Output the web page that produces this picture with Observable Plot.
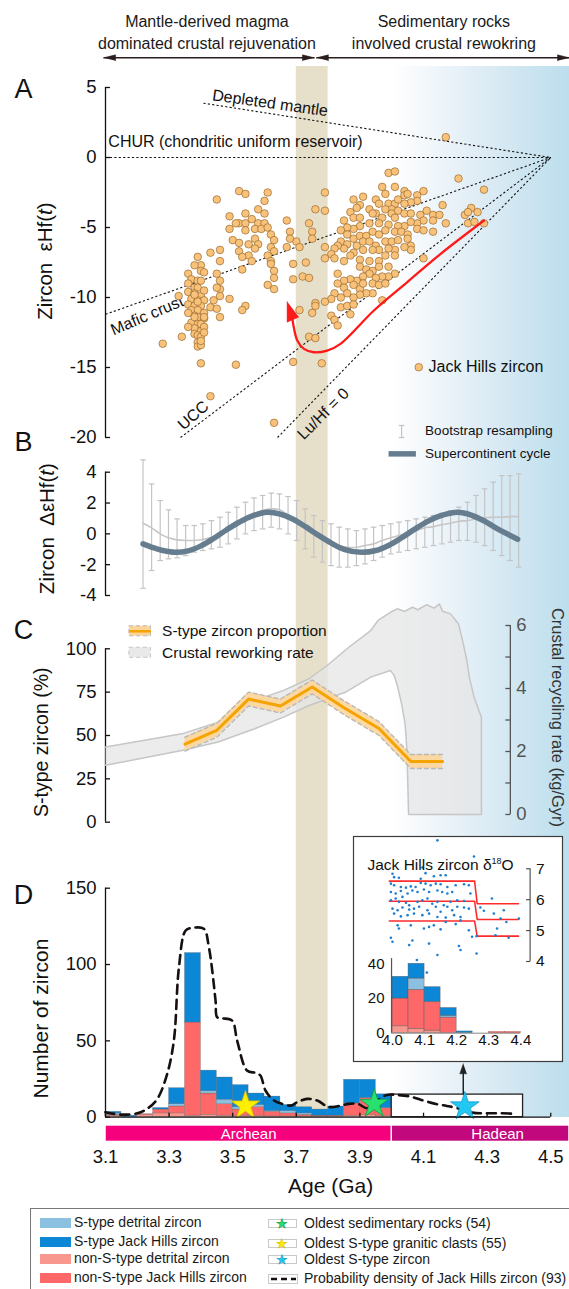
<!DOCTYPE html>
<html><head><meta charset="utf-8">
<script src="https://cdn.jsdelivr.net/npm/d3@7"></script>
<script src="https://cdn.jsdelivr.net/npm/@observablehq/plot@0.6"></script>
<style>
body{margin:0;background:#fff;}
#page{position:relative;width:569px;height:1289px;overflow:hidden;font-family:'Liberation Sans',Arial,Helvetica,sans-serif;color:#1a1a1a;}
#page svg{overflow:visible;}
.lg{position:absolute;font-size:14px;white-space:nowrap;line-height:1;}
</style></head><body>
<svg width="0" height="0" style="position:absolute"><defs>
<linearGradient id="blueGrad" x1="0" x2="1" y1="0" y2="0">
<stop offset="0" stop-color="#ffffff"/><stop offset="0.45" stop-color="#e2eef6"/><stop offset="1" stop-color="#bcdeed"/>
</linearGradient></defs></svg>
<div id="page"></div>
<script>
// ================= DATA =================
// Panel A: Jack Hills zircon [age Ga, εHf(t)]
const jackHillsHf = [
[3.39,-7.1],[3.40,-7.7],[3.38,-7.7],[3.36,-8.3],[3.40,-8.1],[3.41,-8.2],[3.37,-8.7],[3.39,-8.8],[3.40,-8.8],[3.38,-9.3],[3.39,-9.3],[3.36,-9.6],[3.38,-9.7],[3.40,-9.9],[3.37,-10.1],[3.39,-10.2],[3.41,-10.2],[3.36,-10.5],[3.38,-10.6],[3.40,-10.6],[3.37,-10.9],[3.39,-10.9],[3.41,-11.1],[3.38,-11.3],[3.39,-11.4],[3.41,-11.5],[3.37,-11.8],[3.39,-11.9],[3.40,-11.9],[3.38,-12.2],[3.40,-12.4],[3.38,-12.6],[3.39,-12.7],[3.40,-12.8],[3.39,-13.2],[3.39,-13.5],[3.40,-13.4],[3.41,-12.1],[3.34,-12.8],[3.28,-13.3],[3.33,-9.9],[3.36,-9.0],[3.41,-9.5],[3.38,-11.4],[3.41,-11.4],[3.36,-12.1],[3.40,-13.1],[3.41,-12.5],[3.36,-11.1],[3.39,-10.3],[3.38,-9.8],
[3.43,-6.8],[3.46,-6.6],[3.46,-7.4],[3.45,-8.3],[3.46,-8.8],[3.46,-9.4],[3.45,-9.3],[3.46,-9.9],[3.44,-10.2],[3.43,-10.7],[3.45,-10.8],[3.46,-11.4],[3.49,-10.1],[3.40,-14.7],[3.51,-14.8],[3.45,-3.0],
[3.52,-2.4],[3.54,-2.6],[3.61,-2.5],[3.60,-3.1],[3.58,-3.7],[3.60,-4.0],[3.49,-4.2],[3.54,-4.0],[3.52,-4.7],[3.54,-4.7],[3.56,-4.4],[3.58,-4.7],[3.60,-4.7],[3.49,-5.1],[3.51,-4.7],[3.54,-5.2],[3.57,-5.1],[3.59,-5.1],[3.61,-5.0],[3.62,-5.5],[3.50,-5.9],[3.52,-6.1],[3.55,-6.2],[3.57,-5.8],[3.58,-6.2],[3.57,-6.5],[3.63,-5.9],[3.62,-6.4],[3.63,-6.7],[3.52,-6.7],[3.55,-7.0],[3.53,-7.1],[3.61,-7.0],[3.56,-7.4],[3.62,-7.4],[3.62,-7.6],[3.53,-8.0],[3.63,-8.1],[3.63,-8.6],[3.61,-9.1],[3.63,-9.4],[3.54,-10.6],[3.53,-10.9],[3.67,-4.5],[3.68,-5.3],[3.70,-6.0],[3.67,-6.4],[3.71,-6.4],[3.69,-7.6],[3.69,-8.7],[3.72,-8.5],[3.74,-8.6],[3.73,-7.5],[3.68,-5.8],[3.74,-4.7],[3.75,-5.3],[3.75,-5.8],[3.76,-3.7],[3.79,-3.8],[3.79,-2.5],[3.71,-10.9],[3.76,-10.4],[3.76,-10.6],[3.75,-11.1],[3.74,-12.8],[3.76,-12.9],[3.69,-14.6],[3.78,-14.7],
[3.99,-1.1],[4.01,-1.0],[4.21,-1.5],[4.29,-2.3],[3.97,-2.1],[4.01,-2.1],[4.04,-2.4],[3.98,-2.6],[3.91,-2.8],[3.88,-3.0],[3.95,-3.0],[3.96,-3.3],[3.99,-3.3],[4.01,-3.3],[4.02,-3.0],[4.04,-2.7],[4.05,-2.6],[4.08,-2.7],[4.10,-2.4],[4.08,-3.1],[4.06,-3.2],[4.04,-3.3],[4.00,-3.7],[3.98,-3.7],[3.95,-4.0],[3.93,-3.7],[3.90,-3.4],[3.89,-3.6],[3.87,-3.9],[3.85,-4.5],[3.88,-4.3],[3.90,-4.3],[3.94,-4.0],[3.97,-4.3],[4.00,-4.0],[4.02,-3.8],[4.01,-4.3],[4.04,-4.0],[4.06,-4.0],[4.09,-4.1],[4.11,-3.8],[4.13,-4.1],[4.15,-4.1],[4.16,-3.4],[4.17,-4.7],[4.13,-4.5],[4.10,-4.5],[4.08,-4.7],[4.06,-4.6],[4.04,-4.9],[4.02,-4.9],[3.99,-4.8],[3.96,-4.7],[3.93,-4.7],[3.90,-4.9],[3.88,-5.1],[3.86,-5.0],[3.84,-5.2],[3.86,-5.5],[3.88,-5.8],[3.90,-5.6],[3.92,-5.6],[3.94,-5.3],[3.96,-5.5],[3.98,-5.2],[4.01,-5.3],[4.03,-5.3],[4.05,-5.5],[4.08,-5.1],[4.10,-5.2],[4.13,-5.3],[3.84,-6.0],[3.86,-6.2],[3.89,-6.3],[3.91,-6.0],[3.93,-6.0],[3.95,-6.3],[3.98,-6.0],[4.00,-6.0],[4.02,-5.9],[4.05,-5.8],[4.06,-6.3],[4.06,-6.6],[4.04,-6.4],[4.01,-6.6],[3.99,-6.5],[3.96,-6.6],[3.94,-6.6],[3.91,-6.6],[3.88,-6.8],[3.87,-7.0],[3.85,-6.5],[3.83,-6.3],[3.82,-6.5],[3.79,-6.4],[3.81,-6.9],[3.79,-7.2],[3.82,-7.2],[3.85,-7.4],[3.90,-7.3],[3.93,-7.4],[3.96,-7.4],[3.98,-7.0],[4.01,-7.0],[4.10,-7.2],[3.90,-7.8],[3.92,-8.0],[3.94,-8.1],[3.96,-7.8],[3.99,-7.8],[4.01,-8.3],[3.99,-8.5],[3.97,-8.5],[3.95,-8.6],[3.93,-8.3],[3.91,-8.5],[3.89,-8.8],[3.87,-8.7],[3.85,-8.8],[3.83,-8.3],[3.83,-9.0],[3.85,-9.3],[3.88,-9.1],[3.90,-9.4],[3.91,-9.0],[3.94,-9.0],[3.96,-9.1],[3.98,-9.0],[3.94,-9.7],[3.92,-9.7],[3.90,-9.8],[3.88,-10.0],[3.86,-9.7],[3.84,-10.0],[3.82,-9.7],[3.81,-10.1],[3.79,-10.3],[3.84,-10.7],[3.86,-10.6],[3.88,-10.5],[3.87,-11.2],[3.81,-11.3],[3.82,-11.6],[3.83,-12.0],[3.97,-10.2],
[4.23,-4.1],[4.25,-3.6],[4.24,-3.9],[4.27,-3.9],[4.24,-4.7],[4.26,-4.6],[4.29,-4.7],
[4.17,1.45],[3.43,-17.05],[3.63,-18.95]
];
// Panel A reference evolution lines (start point; all converge at 4.5 Ga, εHf 0)
const refLineNames = ["Depleted mantle","CHUR","Mafic crust","UCC","Lu/Hf = 0"];
const refLineStartAge = [3.408, 3.1, 3.1, 3.336, 3.641];
const refLineStartHf = [3.88, 0, -11.2, -20, -20];
const convergeAge = 4.5, convergeHf = 0;
// red trend arrow path
const trendAge = [4.290,4.154,4.049,3.944,3.839,3.797,3.755,3.724,3.703,3.692,3.687];
const trendHf  = [-4.50,-6.88,-8.90,-10.93,-13.31,-13.79,-13.91,-13.67,-13.07,-12.12,-11.40];
const trendHead = [[3.671,-10.29],[3.671,-11.76],[3.708,-11.40]];
const aTicks = [5,0,-5,-10,-15,-20];

// Panel B: bootstrap resampling of ΔεHf(t)
const bsAge = [3.218,3.245,3.272,3.298,3.325,3.352,3.379,3.406,3.433,3.460,3.486,3.513,3.540,3.567,3.594,3.621,3.647,3.674,3.701,3.728,3.755,3.782,3.809,3.835,3.862,3.889,3.916,3.943,3.970,3.997,4.023,4.050,4.077,4.104,4.131,4.158,4.185,4.211,4.238,4.265,4.292,4.319,4.346,4.372,4.399];
const bsMean = [0.69,0.39,0,-0.26,-0.39,-0.43,-0.43,-0.37,-0.22,0,0.32,0.69,1.04,1.30,1.51,1.62,1.56,1.23,0.86,0.43,0,-0.33,-0.61,-0.76,-0.87,-0.87,-0.76,-0.65,-0.43,-0.26,-0.11,0.04,0.21,0.39,0.47,0.60,0.69,0.82,0.86,0.97,1.04,1.08,1.08,1.12,1.12];
const bsLow = [-3.53,-2.38,-1.73,-1.62,-1.56,-1.41,-1.19,-1.08,-0.97,-0.87,-0.65,-0.33,0,0.21,0.32,0.43,0.32,0,-0.43,-0.97,-1.51,-1.84,-2.06,-2.16,-2.16,-2.06,-1.95,-1.73,-1.51,-1.30,-1.19,-1.08,-0.97,-0.87,-0.76,-0.65,-0.54,-0.43,-0.43,-0.54,-0.76,-1.08,-1.41,-1.73,-2.16];
const bsHigh = [4.8,3.24,2.16,1.56,0.97,0.54,0.54,0.65,0.86,1.08,1.40,1.73,2.05,2.33,2.49,2.64,2.59,2.42,2.16,1.62,1.19,0.86,0.65,0.43,0.32,0.21,0.32,0.43,0.54,0.65,0.76,0.86,0.97,1.08,1.19,1.34,1.51,1.73,2.05,2.49,2.92,3.35,3.78,3.78,3.89];
const cycleAge = [3.218,3.25,3.28,3.318,3.36,3.40,3.44,3.48,3.52,3.56,3.608,3.65,3.69,3.73,3.77,3.81,3.85,3.905,3.95,3.99,4.03,4.07,4.11,4.15,4.208,4.25,4.29,4.33,4.396];
const cycleVal = [-0.65,-0.9,-1.08,-1.2,-1.1,-0.78,-0.3,0.25,0.75,1.15,1.4,1.28,0.95,0.45,-0.1,-0.6,-1.0,-1.2,-1.08,-0.75,-0.27,0.27,0.78,1.15,1.4,1.22,0.85,0.35,-0.35];
const bTicks = [4,2,0,-2,-4];

// Panel C
const sTypeAge = [3.35,3.45,3.55,3.65,3.75,3.85,3.96,4.06,4.16];
const sTypePct = [45,53,71,67,78,66,54,35,35];
const reworkUpper = [[3.1,2.14],[3.34,2.56],[3.454,2.93],[3.569,3.62],[3.66,3.94],[3.74,4.31],[3.797,4.73],[3.865,5.31],[3.934,5.84],[3.957,6.16],[3.996,6.42],[4.017,6.53],[4.04,6.45],[4.065,6.58],[4.082,6.5],[4.11,6.66],[4.133,6.55],[4.15,6.68],[4.16,6.45],[4.185,6.37],[4.21,6.05],[4.225,5.42],[4.236,4.89],[4.244,4.36],[4.259,3.72],[4.274,3.30],[4.282,3.09],[4.282,0]];
const reworkLower = [[4.053,0],[4.048,2.03],[4.042,2.88],[4.031,3.51],[4.019,4.04],[4.008,4.41],[3.996,4.57],[3.934,4.36],[3.854,3.88],[3.74,3.46],[3.66,3.09],[3.569,2.72],[3.454,2.30],[3.34,2.03],[3.1,1.56]];
const cLeftTicks = [100,75,50,25,0];
const cRightTicks = [0,1,2,3,4,5,6];
const cRightLabels = [0,2,4,6];

// Panel D histogram (0.05 Ga bins, 3.10–4.00)
const histBins = [3.10,3.15,3.20,3.25,3.30,3.35,3.40,3.45,3.50,3.55,3.60,3.65,3.70,3.75,3.80,3.85,3.90,3.95];
const histNonSDetrital = [1.0,0,1.5,2.5,2.5,1.0,1.5,1.0,1.0,1.0,0.5,0.5,0.5,0.5,0.5,1.0,1.5,1.0];
const histNonSJackHills = [0.5,0,0.5,2.5,4.5,61.0,14.0,7.5,4.0,5.5,3.0,2.0,1.0,0.5,0.5,8.0,11.0,5.0];
const histSDetrital = [1.0,0,0,0,1.5,0,1.5,3.0,1.5,1.5,0.5,1.5,1.0,0,0,0,0,0];
const histSJackHills = [1.0,1.0,0,1.0,10.5,45.5,13.5,14.5,14.5,7.5,9.5,4.0,4.0,4.0,6.0,15.5,12.0,9.0];
const binWidth = 0.05;
const densityAge = [3.10,3.147,3.20,3.231,3.263,3.294,3.315,3.331,3.352,3.373,3.409,3.425,3.446,3.451,3.467,3.498,3.514,3.545,3.572,3.587,3.603,3.63,3.656,3.682,3.703,3.734,3.766,3.792,3.808,3.839,3.865,3.894,3.922,3.957,3.985,4.014,4.059,4.093,4.139,4.173,4.207,4.253,4.299,4.344,4.39];
const densityVal = [3.3,1.7,2.6,5.5,12.0,28.4,50.2,98.3,122.3,124.0,123.4,111.4,76.4,65.5,64.8,63.3,50.2,30.6,29.0,27.3,17.5,10.9,8.7,7.6,9.8,12.0,10.9,7.6,6.6,7.6,8.7,8.7,5.9,11.3,14.6,14.6,13.5,11.3,8.7,7.4,5.9,3.0,2.6,2.6,2.2];
const starNames = ["Oldest S-type granitic clasts (55)","Oldest sedimentary rocks (54)","Oldest S-type zircon"];
const starAge = [3.54, 3.945, 4.23];
const starCount = [7.6, 8.7, 7.0];
const eonNames = ["Archean","Hadean"];
const eonStart = [3.1, 4.0];
const eonEnd = [4.0, 4.559];
const eonLabelAge = [3.55, 4.333];
const dTicks = [150,100,50,0];
const ageTicks = [3.1,3.3,3.5,3.7,3.9,4.1,4.3,4.5];
const zoomBox = [4.0, 4.413, 14.8]; // age from, age to, count height

// Inset: δ18O of Jack Hills zircon
const o18 = [[4.14,7.92],[4.254,7.40],[4.00,6.84],[4.005,6.73],[4.02,6.71],[4.093,7.04],[4.103,6.86],[4.129,6.76],[4.15,6.79],[4.166,6.79],[4.088,6.68],[3.995,6.52],[4.005,6.47],[4.026,6.41],[4.042,6.39],[4.057,6.43],[4.072,6.41],[4.088,6.54],[4.103,6.52],[4.119,6.47],[4.135,6.52],[4.15,6.50],[4.171,6.41],[4.197,6.47],[4.223,6.50],[4.238,6.47],[4.243,6.20],[3.995,6.25],[4.01,6.20],[4.026,6.28],[4.031,6.09],[4.047,6.20],[4.062,6.30],[4.078,6.25],[4.098,6.33],[4.114,6.25],[4.14,6.30],[4.155,6.25],[4.171,6.20],[4.186,6.25],[3.995,5.98],[4.01,6.04],[4.02,5.93],[4.042,5.90],[4.052,5.82],[4.078,5.93],[4.093,5.98],[4.109,6.04],[4.124,5.87],[4.14,5.93],[4.16,5.82],[4.181,5.93],[4.202,5.98],[4.223,5.96],[4.00,5.71],[4.016,5.66],[4.031,5.75],[4.052,5.68],[4.067,5.71],[4.083,5.77],[4.109,5.66],[4.135,5.77],[4.15,5.61],[4.171,5.77],[4.186,5.66],[4.202,5.77],[4.223,5.75],[4.238,5.71],[4.005,5.55],[4.026,5.46],[4.047,5.50],[4.067,5.55],[4.093,5.50],[4.114,5.55],[4.14,5.44],[4.166,5.42],[4.192,5.50],[4.212,5.44],[4.016,5.17],[4.02,5.07],[4.057,5.17],[4.098,5.07],[4.114,5.12],[4.129,5.17],[4.15,5.04],[4.166,5.28],[4.197,5.21],[4.212,5.33],[4.238,5.01],[4.248,4.80],[3.995,4.77],[4.00,4.64],[4.052,4.53],[4.062,4.68],[4.114,4.58],[4.14,4.21],[4.207,4.50],[4.212,4.37],[4.262,4.26],[4.076,4.05],[4.107,3.64],[4.274,5.75],[4.285,5.64],[4.31,6.04],[4.347,5.66],[4.316,5.55],[4.337,5.39],[4.355,5.28],[4.394,5.39],[4.326,5.07],[4.321,4.85],[4.362,4.77],[4.262,4.82]];
const o18Steps = [
  [[3.99,6.6],[4.256,6.6],[4.264,5.87],[4.393,5.87]],
  [[3.99,5.95],[4.256,5.95],[4.264,5.36],[4.393,5.36]],
  [[3.99,5.31],[4.256,5.31],[4.264,4.82],[4.393,4.82]]
];
const insetBins = [4.00,4.05,4.10,4.15,4.20,4.25,4.30,4.35];
const insetNonSDetrital = [4,2.5,1.5,0,0,0,0,0];
const insetNonSJackHills = [16,22.5,16.5,9,0,0,0.6,0.6];
const insetSDetrital = [0,6.5,0,1,0,0,0,0];
const insetSJackHills = [12.5,8.5,8.5,4.5,1,0,0,0];
const insetCountTicks = [40,20,0];
const insetAgeTicks = [4.0,4.1,4.2,4.3,4.4];
const insetO18Ticks = [7,6,5,4];

// ================= STYLE / LAYOUT =================
const FONT = "'Liberation Sans', Arial, Helvetica, sans-serif";
const XD = [3.1, 4.559];
const FRAMEW = 569 - 105;
const pxAge = 1 / 318; // one pixel in Ga on the shared age axis
const TAN = "#e6dfca";
const col = {nonSdet: "#f7978d", nonSJH: "#ff6868", Sdet: "#8cc0e1", SJH: "#0b87d6"};
const seriesOrder = ["nonSdet","nonSJH","Sdet","SJH"];
const page = document.getElementById("page");

function put(svg, top, left = 0) {
  const d = document.createElement("div");
  d.style.cssText = `position:absolute;left:${left}px;top:${top}px;`;
  d.appendChild(svg);
  page.appendChild(d);
  return svg;
}
function mk(o) {
  const x = Object.assign({domain: XD, axis: null}, o.x || {});
  return Plot.plot(Object.assign({
    width: 569, marginLeft: 105, marginRight: 0, marginTop: 0, marginBottom: 0,
    style: {background: "transparent", overflow: "visible", fontFamily: FONT, fontSize: "16px", color: "#111"}
  }, o, {x}));
}
const bg = () => [
  Plot.rect([0], {x1: 4.0, x2: XD[1], fill: "url(#blueGrad)"}),
  Plot.rect([0], {x1: 3.7, x2: 3.8, fill: TAN})
];
function leftAxis(ticks, lo, hi, opts = {}) {
  return [
    Plot.ruleX([3.1], {y1: lo, y2: hi, stroke: "#111", strokeWidth: 1.3}),
    Plot.ruleY(ticks, {y: d => d, insetRight: FRAMEW - 5, stroke: "#111", strokeWidth: 1.3}),
    Plot.axisY({ticks, tickSize: 0, tickPadding: 9, tickFormat: d => String(d), fontSize: 18.5, label: null, anchor: "left", ...opts})
  ];
}
// rotated axis title centred at page-x `cx`, data-y `y`
const yTitle = (t, cx, y, fs) => Plot.text([t], {x: 3.1, dx: cx - 105, y, rotate: -90, text: d => d, textAnchor: "middle", lineAnchor: "middle", fontSize: fs});
function richText(svg) {
  svg.querySelectorAll("text").forEach(t => {
    if (t.children.length) return;
    const s = t.textContent;
    const NS = "http://www.w3.org/2000/svg";
    if (s.includes("(t)")) {
      const [pre, post] = s.split("(t)");
      t.textContent = "";
      t.appendChild(document.createTextNode(pre + "("));
      const ts = document.createElementNS(NS, "tspan");
      ts.setAttribute("font-style", "italic"); ts.textContent = "t";
      t.appendChild(ts);
      t.appendChild(document.createTextNode(")" + post));
    } else if (s.includes("δ18O")) {
      const [pre] = s.split("δ18O");
      t.textContent = "";
      t.appendChild(document.createTextNode(pre + "δ"));
      const a = document.createElementNS(NS, "tspan");
      a.setAttribute("font-size", "9"); a.setAttribute("dy", "-6"); a.textContent = "18";
      const b = document.createElementNS(NS, "tspan");
      b.setAttribute("dy", "6"); b.textContent = "O";
      t.appendChild(a); t.appendChild(b);
    }
  });
}
const letter = (L, dy) => Plot.text([L], {frameAnchor: "top-left", dx: -82, dy, text: d => d, fontSize: 27, textAnchor: "middle", lineAnchor: "middle"});

// ================= HEADER =================
const headerArrows = [{a: 3.094, b: 3.757}, {a: 3.763, b: XD[1]}];
const AY = 57.3, HL = 12 * pxAge, HH = 3;
const heads = [];
headerArrows.forEach((ar, i) => {
  heads.push([ar.a, AY, "l" + i], [ar.a + HL, AY - HH, "l" + i], [ar.a + HL, AY + HH, "l" + i]);
  heads.push([ar.b, AY, "r" + i], [ar.b - HL, AY - HH, "r" + i], [ar.b - HL, AY + HH, "r" + i]);
});
const headerText = [
  {t: "Mantle-derived magma", x: 3.419, y: 21.7}, {t: "dominated crustal rejuvenation", x: 3.419, y: 43.3},
  {t: "Sedimentary rocks", x: 4.164, y: 21.7}, {t: "involved crustal rewokring", x: 4.164, y: 43.3}
];
put(mk({height: 66, y: {type: "identity", axis: null}, marks: [
  Plot.text(headerText, {x: "x", y: "y", text: "t", fontSize: 16, fill: "#1a1a1a"}),
  Plot.link(headerArrows, {x1: "a", x2: "b", y1: AY, y2: AY, stroke: "#2b1d1d", strokeWidth: 1.6}),
  Plot.line(heads, {x: d => d[0], y: d => d[1], z: d => d[2], fill: "#2b1d1d", stroke: "#2b1d1d", strokeWidth: 0.5})
]}), 0);

// ================= PANEL A =================
const refIdx = d3.range(refLineNames.length);
const svgA = put(mk({height: 389, y: {domain: [-20, 5], range: [371, 21], axis: null}, marks: [
  ...bg(),
  Plot.link(refIdx, {x1: i => refLineStartAge[i], y1: i => refLineStartHf[i], x2: convergeAge, y2: convergeHf, stroke: "#111", strokeWidth: 1.1, strokeDasharray: "2.2,2.2"}),
  Plot.text(["Depleted mantle"], {x: 3.436, y: 4.46, rotate: 8, text: d => d, textAnchor: "start", fontSize: 16}),
  Plot.text(["CHUR (chondritic uniform reservoir)"], {x: 3.109, y: 1.09, text: d => d, textAnchor: "start", fontSize: 16}),
  Plot.text(["Mafic crust"], {x: 3.231, y: -11.29, rotate: -23, text: d => d, fontSize: 16}),
  Plot.text(["UCC"], {x: 3.376, y: -18.43, rotate: -41, text: d => d, fontSize: 16}),
  Plot.text(["Lu/Hf = 0"], {x: 3.785, y: -18.31, rotate: -45, text: d => d, fontSize: 16}),
  Plot.dot(jackHillsHf, {x: d => d[0], y: d => d[1], r: 3.8, fill: "#f9c27a", stroke: "#9a6a2e", strokeWidth: 0.7}),
  Plot.line(d3.range(trendAge.length), {x: i => trendAge[i], y: i => trendHf[i], stroke: "#ff1a1a", strokeWidth: 2.3, curve: "catmull-rom"}),
  Plot.line(trendHead, {x: d => d[0], y: d => d[1], fill: "#ff1a1a", stroke: "#ff1a1a", strokeWidth: 0.5}),
  Plot.dot([0], {x: 4.085, y: -14.98, r: 3.8, fill: "#f9c27a", stroke: "#9a6a2e", strokeWidth: 0.7}),
  Plot.text(["Jack Hills zircon"], {x: 4.116, y: -14.98, text: d => d, textAnchor: "start", fontSize: 16}),
  ...leftAxis(aTicks, -20, 5),
  yTitle("Zircon  εHf(t)", 45, -7.4, 20.5),
  letter("A", 23)
]}), 66);
richText(svgA);

// ================= PANEL B =================
const bsIdx = d3.range(bsAge.length);
const cap = 2.8 * pxAge;
const svgB = put(mk({height: 185, marginTop: 40, y: {domain: [-4, 4], range: [180, 56.7], axis: null}, marks: [
  ...bg(),
  Plot.ruleX(bsIdx, {x: i => bsAge[i], y1: i => bsLow[i], y2: i => bsHigh[i], stroke: "#c4c4c4", strokeWidth: 1.2}),
  Plot.link(bsIdx, {x1: i => bsAge[i] - cap, x2: i => bsAge[i] + cap, y1: i => bsLow[i], y2: i => bsLow[i], stroke: "#c4c4c4", strokeWidth: 1.2}),
  Plot.link(bsIdx, {x1: i => bsAge[i] - cap, x2: i => bsAge[i] + cap, y1: i => bsHigh[i], y2: i => bsHigh[i], stroke: "#c4c4c4", strokeWidth: 1.2}),
  Plot.line(bsIdx, {x: i => bsAge[i], y: i => bsMean[i], stroke: "#c6c6c6", strokeWidth: 1.6, curve: "catmull-rom"}),
  Plot.line(d3.range(cycleAge.length), {x: i => cycleAge[i], y: i => cycleVal[i], stroke: "#657d8f", strokeWidth: 5.5, curve: "catmull-rom"}),
  // legend
  Plot.ruleX([4.031], {y1: 6.25, y2: 7.03, stroke: "#c4c4c4", strokeWidth: 1.2}),
  Plot.link([6.25, 7.03], {x1: 4.031 - cap, x2: 4.031 + cap, y1: d => d, y2: d => d, stroke: "#c4c4c4", strokeWidth: 1.2}),
  Plot.link([0], {x1: 3.99, x2: 4.076, y1: 5.19, y2: 5.19, stroke: "#657d8f", strokeWidth: 5.5}),
  Plot.text(["Bootstrap resampling", "Supercontinent cycle"], {x: 4.105, y: (d, i) => [6.71, 5.19][i], text: d => d, textAnchor: "start", fontSize: 13.5}),
  ...leftAxis(bTicks, -4, 4),
  yTitle("Zircon  ΔεHf(t)", 47, 0.34, 20.5),
  letter("B", -13.3)
]}), 415);
richText(svgB);

// ================= PANEL C =================
const sIdx = d3.range(sTypeAge.length);
const cLeftY = {domain: [0, 100], range: [221.7, 48.3], axis: null};
put(mk({height: 236, y: cLeftY, marks: [
  ...bg(),
  ...leftAxis(cLeftTicks, 0, 100),
  yTitle("S-type zircon (%)", 41.7, 46.1, 19.5),
  letter("C", 30)
]}), 600);
const RX = 4.373;
put(mk({height: 236, y: {domain: [0, 6], range: [214, 25], axis: null}, marks: [
  Plot.line([...reworkUpper, ...reworkLower], {x: d => d[0], y: d => d[1], fill: "#e6e6e6", fillOpacity: 0.75, stroke: "#c6c6c6", strokeWidth: 1.5}),
  Plot.ruleX([RX], {y1: 0, y2: 6, stroke: "#555", strokeWidth: 1.3}),
  Plot.link(cRightTicks, {x1: RX - 5 * pxAge, x2: RX, y1: d => d, y2: d => d, stroke: "#555", strokeWidth: 1.3}),
  Plot.text(cRightLabels, {x: RX, dx: 6, y: d => d, text: d => String(d), textAnchor: "start", fontSize: 18.5, fill: "#555"}),
  Plot.text(["Crustal recycling rate (kg/Gyr)"], {x: 4.521, y: 3.08, rotate: 90, text: d => d, fontSize: 16.5, fill: "#333"})
]}), 600);
put(mk({height: 236, y: cLeftY, marks: [
  Plot.areaY(sIdx, {x: i => sTypeAge[i], y1: i => sTypePct[i] - 4, y2: i => sTypePct[i] + 4, fill: "#fdd59a", fillOpacity: 0.9}),
  Plot.line(sIdx, {x: i => sTypeAge[i], y: i => sTypePct[i] + 4, stroke: "#b9b9b9", strokeWidth: 1.4, strokeDasharray: "4,3"}),
  Plot.line(sIdx, {x: i => sTypeAge[i], y: i => sTypePct[i] - 4, stroke: "#b9b9b9", strokeWidth: 1.4, strokeDasharray: "4,3"}),
  Plot.line(sIdx, {x: i => sTypeAge[i], y: i => sTypePct[i], stroke: "#f5a300", strokeWidth: 3}),
  // legend
  Plot.rect([0], {x1: 3.175, x2: 3.243, y1: 107.2, y2: 113.0, fill: "#fdd59a", stroke: "#b9b9b9", strokeDasharray: "4,3"}),
  Plot.link([0], {x1: 3.175, x2: 3.243, y1: 110.1, y2: 110.1, stroke: "#f5a300", strokeWidth: 2.5}),
  Plot.rect([0], {x1: 3.175, x2: 3.243, y1: 94.8, y2: 100.6, fill: "#e9e9e9", stroke: "#c6c6c6", strokeDasharray: "4,3"}),
  Plot.text(["S-type zircon proportion", "Crustal reworking rate"], {x: 3.278, y: (d, i) => [110.1, 97.7][i], text: d => d, textAnchor: "start", fontSize: 15.5})
]}), 600);

// ================= PANEL D =================
const dVals = {nonSdet: histNonSDetrital, nonSJH: histNonSJackHills, Sdet: histSDetrital, SJH: histSJackHills};
const dRects = [];
histBins.forEach((b, i) => {
  let acc = 0;
  seriesOrder.forEach(s => { const v = dVals[s][i]; if (v > 0) dRects.push({x1: b, x2: b + binWidth, y1: acc, y2: acc + v, s}); acc += v; });
});
const dPx = 229 / 150;               // pixels per count
const below = px => -px / dPx;       // offset below the zero line, in count units
const starIdx = d3.range(starAge.length);
const starFill = ["#fff000", "#27e06e", "#22c8f2"];
const starStroke = ["#d9b800", "#119a45", "#1a9ccb"];
const eonFill = ["#f7007d", "#c2087d"];
const arrowX = 4.225, tipC = 35.0, headC = tipC - 10 / dPx, hw = 3.5 * pxAge;
const eonIdx = d3.range(eonNames.length);
put(mk({height: 371, marginBottom: 90, y: {domain: [0, 150], range: [280.7, 51.7], axis: null}, marks: [
  ...bg(),
  Plot.rect(dRects, {x1: "x1", x2: "x2", y1: "y1", y2: "y2", fill: d => col[d.s], stroke: "#5a5a5a", strokeWidth: 0.5, strokeOpacity: 0.55}),
  Plot.rect([0], {x1: zoomBox[0], x2: zoomBox[1], y1: 0, y2: zoomBox[2], fill: "white", stroke: "#222", strokeWidth: 1.3}),
  Plot.line(d3.range(densityAge.length), {x: i => densityAge[i], y: i => densityVal[i], stroke: "#161010", strokeWidth: 2.6, strokeDasharray: "9,6", curve: "catmull-rom"}),
  Plot.dot(starIdx, {x: i => starAge[i], y: i => starCount[i], symbol: "star", r: 9, fill: i => starFill[i], stroke: i => starStroke[i], strokeWidth: 0.8}),
  Plot.link([0], {x1: arrowX, x2: arrowX, y1: zoomBox[2], y2: headC + 1, stroke: "#222", strokeWidth: 1.5}),
  Plot.line([[arrowX, tipC], [arrowX - hw, headC], [arrowX + hw, headC]], {x: d => d[0], y: d => d[1], fill: "#222", stroke: "#222", strokeWidth: 0.5}),
  ...leftAxis(dTicks, 0, 150),
  Plot.ruleY([0], {x1: 3.1, x2: 4.5, stroke: "#111", strokeWidth: 1.3}),
  Plot.ruleX(ageTicks, {x: d => d, y1: 0, y2: 4 / dPx, stroke: "#111", strokeWidth: 1.3}),
  Plot.rect(eonIdx, {x1: i => eonStart[i], x2: i => eonEnd[i], y1: below(9), y2: below(24), fill: i => eonFill[i], insetLeft: 0.75, insetRight: 0.75}),
  Plot.text(eonIdx, {x: i => eonLabelAge[i], y: below(16.5), text: i => eonNames[i], fill: "white", fontSize: 15}),
  Plot.text(ageTicks, {x: d => d, y: below(40), text: d => d.toFixed(1), fontSize: 18.5}),
  Plot.text(["Age (Ga)"], {x: 3.808, y: below(69), text: d => d, fontSize: 21}),
  yTitle("Number of zircon", 41, 64.6, 21),
  letter("D", 59)
]}), 836);

// ================= INSET =================
const inX = {domain: [4.0, 4.4], range: [39, 167.3], axis: null};
const inRects = [];
const inVals = {nonSdet: insetNonSDetrital, nonSJH: insetNonSJackHills, Sdet: insetSDetrital, SJH: insetSJackHills};
insetBins.forEach((b, i) => {
  let acc = 0;
  seriesOrder.forEach(s => { const v = inVals[s][i]; if (v > 0) inRects.push({x1: b, x2: b + binWidth, y1: acc, y2: acc + v, s}); acc += v; });
});
const inPx = 1 / 320.75;
const inStyle = {background: "transparent", overflow: "visible", fontFamily: FONT, fontSize: "15px", color: "#111"};
const inCountPx = 69.4 / 40;
put(Plot.plot({width: 209, height: 225, margin: 0, style: inStyle, x: inX, y: {domain: [0, 40], range: [196.7, 127.3], axis: null}, marks: [
  Plot.frame({fill: "white", stroke: "#3c3c3c", strokeWidth: 1.2}),
  Plot.rect(inRects, {x1: "x1", x2: "x2", y1: "y1", y2: "y2", fill: d => col[d.s], stroke: d => d.x1 >= 4.3 ? "#a04040" : "#5a5a5a", strokeWidth: 0.6, strokeOpacity: 0.7}),
  Plot.ruleY([0], {x1: 3.997, x2: 4.4, stroke: "#888", strokeWidth: 1}),
  Plot.ruleX([3.997], {y1: 0, y2: 43, stroke: "#555", strokeWidth: 1.2}),
  Plot.text(insetCountTicks, {x: 3.997, dx: -7, y: d => d, text: d => String(d), textAnchor: "end", fontSize: 15}),
  Plot.text(insetAgeTicks, {x: d => d, y: -7.3 / inCountPx, text: d => d.toFixed(1), fontSize: 15})
]}), 836, 352.5);
const inRX = 4.429;
const svgI = put(Plot.plot({width: 209, height: 225, margin: 0, style: inStyle, x: inX, y: {domain: [4, 7], range: [125, 32.3], axis: null}, marks: [
  Plot.line(o18Steps.flatMap((s, k) => s.map(p => [p[0], p[1], k])), {x: d => d[0], y: d => d[1], z: d => d[2], stroke: "#ff2b2b", strokeWidth: 1.6}),
  Plot.dot(o18, {x: d => d[0], y: d => d[1], r: 1.3, fill: "#1f7fd0"}),
  Plot.ruleX([inRX], {y1: 4, y2: 7, stroke: "#444", strokeWidth: 1.1}),
  Plot.link(insetO18Ticks, {x1: inRX - 4 * inPx, x2: inRX, y1: d => d, y2: d => d, stroke: "#444", strokeWidth: 1.1}),
  Plot.text(insetO18Ticks, {x: inRX, dx: 6, y: d => d, text: d => String(d), textAnchor: "start", fontSize: 15.5}),
  Plot.text(["Jack Hills zircon δ18O"], {x: 3.922, y: 7.11, text: d => d, textAnchor: "start", fontSize: 15.5})
]}), 836, 352.5);
richText(svgI);

// ================= LEGEND (below the chart) =================
const legendBars = [["S-type detrital zircon", col.Sdet], ["S-type Jack Hills zircon", col.SJH], ["non-S-type detrital zircon", col.nonSdet], ["non-S-type Jack Hills zircon", col.nonSJH]];
const legendSym = [["Oldest sedimentary rocks (54)", 1], ["Oldest S-type granitic clasts (55)", 0], ["Oldest S-type zircon", 2]];
const lg = document.createElement("div");
lg.style.cssText = "position:absolute;left:30px;top:1208px;width:560px;height:100px;border:1px solid #777;box-sizing:border-box;";
const lTop = [13.7, 32.7, 50.3, 69.3], rTop = [15.3, 35, 51.3, 70.3];
let html = "";
legendBars.forEach((d, i) => {
  html += `<div style="position:absolute;left:9px;top:${lTop[i] - 5}px;width:31px;height:10px;background:${d[1]}"></div>`;
  html += `<div class="lg" style="left:43px;top:${lTop[i] - 8}px">${d[0]}</div>`;
});
legendSym.forEach((d, i) => {
  html += `<div style="position:absolute;left:237px;top:${rTop[i] - 5}px;width:29px;height:9px;border:1px solid #c8c8c8;box-sizing:border-box;background:#fff"></div>`;
  html += `<div style="position:absolute;left:245px;top:${rTop[i] - 7.5}px;font-size:13px;line-height:1;color:${starFill[d[1]]};-webkit-text-stroke:0.5px ${starStroke[d[1]]}">★</div>`;
  html += `<div class="lg" style="left:273px;top:${rTop[i] - 8}px">${d[0]}</div>`;
});
html += `<svg style="position:absolute;left:237px;top:${rTop[3] - 5}px" width="30" height="10"><rect x="0.5" y="0.5" width="29" height="9" fill="#fff" stroke="#c8c8c8"/><line x1="3" x2="28" y1="5" y2="5" stroke="#161010" stroke-width="2.6" stroke-dasharray="6,4"/></svg>`;
html += `<div class="lg" style="left:273px;top:${rTop[3] - 8}px">Probability density of Jack Hills zircon (93)</div>`;
lg.innerHTML = html;
page.appendChild(lg);
</script></body></html>
